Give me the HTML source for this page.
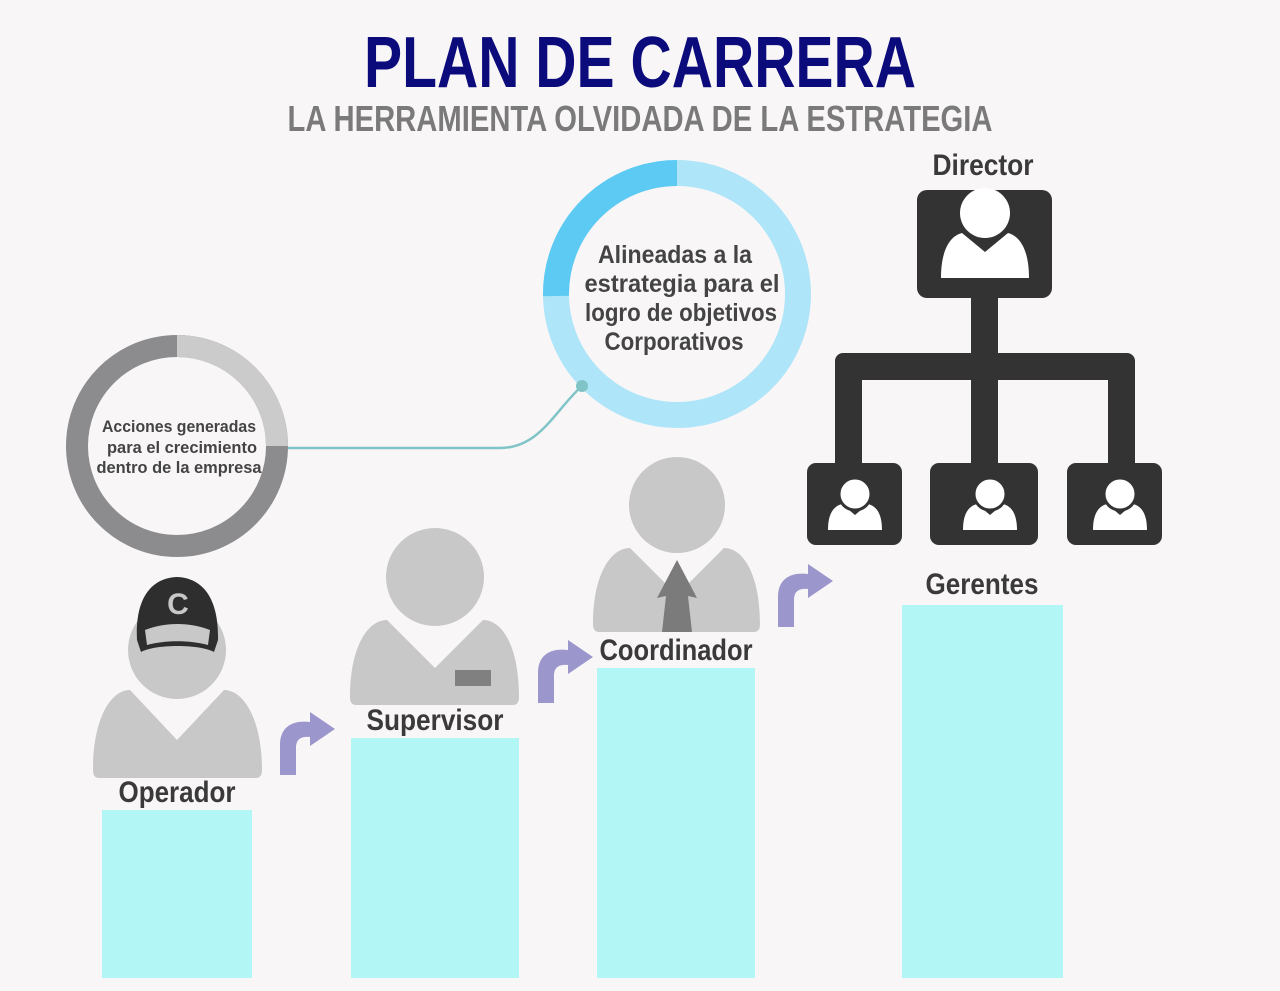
<!DOCTYPE html>
<html><head><meta charset="utf-8"><style>
html,body{margin:0;padding:0;background:#f9f6f8;}
svg{display:block;}
text{font-family:"Liberation Sans Narrow","Liberation Sans",sans-serif;font-weight:bold;}
</style></head><body>
<svg width="1280" height="991" viewBox="0 0 1280 991" xmlns="http://www.w3.org/2000/svg">
<rect width="1280" height="991" fill="#f9f6f8"/>
<text x="640" y="87" text-anchor="middle" font-size="72" fill="#0b0b7c" textLength="552" lengthAdjust="spacingAndGlyphs">PLAN DE CARRERA</text>
<text x="640" y="131" text-anchor="middle" font-size="36" fill="#7a7a7a" textLength="705" lengthAdjust="spacingAndGlyphs">LA HERRAMIENTA OLVIDADA DE LA ESTRATEGIA</text>

<circle cx="177" cy="446" r="100" fill="none" stroke="#8c8c8e" stroke-width="22"/>
<path d="M177,346 A100,100 0 0 1 277,446" fill="none" stroke="#cbcbcb" stroke-width="22"/>
<g font-size="17" fill="#444" text-anchor="middle">
<text x="179" y="432" textLength="154" lengthAdjust="spacingAndGlyphs">Acciones generadas</text>
<text x="182" y="453" textLength="150" lengthAdjust="spacingAndGlyphs">para el crecimiento</text>
<text x="179" y="473" textLength="165" lengthAdjust="spacingAndGlyphs">dentro de la empresa</text>
</g>

<path d="M288,448 L500,448 C540,448 555,410 582,386" fill="none" stroke="#80c4c8" stroke-width="2.5"/>

<circle cx="677" cy="294" r="121" fill="none" stroke="#afe5f8" stroke-width="26"/>
<path d="M556,296 A121,121 0 0 1 677,173" fill="none" stroke="#5ccaf2" stroke-width="26"/>
<circle cx="582" cy="386" r="6" fill="#80c4c8"/>
<g font-size="25" fill="#444" text-anchor="middle">
<text x="675" y="263" textLength="154" lengthAdjust="spacingAndGlyphs">Alineadas a la</text>
<text x="682" y="292" textLength="195" lengthAdjust="spacingAndGlyphs">estrategia para el</text>
<text x="681" y="321" textLength="192" lengthAdjust="spacingAndGlyphs">logro de objetivos</text>
<text x="674" y="350" textLength="139" lengthAdjust="spacingAndGlyphs">Corporativos</text>
</g>

<g fill="#b3f6f6">
<rect x="102" y="810" width="150" height="168"/>
<rect x="351" y="738" width="168" height="240"/>
<rect x="597" y="668" width="158" height="310"/>
<rect x="902" y="605" width="161" height="373"/>
</g>

<g fill="#c8c8c8">
<path d="M99,778 Q93,778 93,770 C93,720 110,690 130,690 L177,740 L224,690 C244,690 262,720 262,770 Q262,778 256,778 Z"/>
<circle cx="177" cy="650" r="49"/>
<path d="M356,705 Q350,705 350,697 C350,648 367,620 387,620 L435,668 L483,620 C503,620 519,648 519,697 Q519,705 513,705 Z"/>
<circle cx="435" cy="577" r="49"/>
<path d="M599,632 Q593,632 593,624 C593,576 610,548 630,548 L677,595 L724,548 C744,548 760,576 760,624 Q760,632 754,632 Z"/>
<circle cx="677" cy="505" r="48"/>
</g>
<rect x="455" y="670" width="36" height="16" fill="#808080"/>
<path d="M677,560 L697,598 L688,596 L692,632 L662,632 L666,596 L657,598 Z" fill="#7b7b7b"/>
<path d="M137,640 C135,600 150,578 177,577 C204,578 219,600 218,640 L214,652 C200,644 155,644 141,652 Z" fill="#2e2e2e"/>
<path d="M145,630 C165,622 190,622 210,630 L208,645 C190,640 165,640 147,645 Z" fill="#c8c8c8"/>
<text x="178" y="614" text-anchor="middle" font-size="30" fill="#c8c8c8">C</text>

<g fill="#9b97cc">
<path d="M280,775 L280,745 C280,725 295,720 310,722 L310,712 L335,729 L310,746 L310,737 C300,736 296,740 296,748 L296,775 Z"/>
<path d="M538,703 L538,673 C538,653 553,648 568,650 L568,640 L593,657 L568,674 L568,665 C558,664 554,668 554,676 L554,703 Z"/>
<path d="M778,627 L778,597 C778,577 793,572 808,574 L808,564 L833,581 L808,598 L808,589 C798,588 794,592 794,600 L794,627 Z"/>
</g>

<g fill="#3a3a3a" font-size="30" text-anchor="middle">
<text x="177" y="802" textLength="117" lengthAdjust="spacingAndGlyphs">Operador</text>
<text x="435" y="730" textLength="137" lengthAdjust="spacingAndGlyphs">Supervisor</text>
<text x="676" y="660" textLength="153" lengthAdjust="spacingAndGlyphs">Coordinador</text>
<text x="982" y="594" textLength="113" lengthAdjust="spacingAndGlyphs">Gerentes</text>
<text x="983" y="175" textLength="101" lengthAdjust="spacingAndGlyphs">Director</text>
</g>

<g fill="#333">
<rect x="917" y="190" width="135" height="108" rx="10"/>
<rect x="971" y="290" width="27" height="180"/>
<rect x="835" y="353" width="300" height="27" rx="8"/>
<rect x="835" y="360" width="27" height="110"/>
<rect x="1108" y="360" width="27" height="110"/>
<rect x="807" y="463" width="95" height="82" rx="9"/>
<rect x="930" y="463" width="108" height="82" rx="9"/>
<rect x="1067" y="463" width="95" height="82" rx="9"/>
</g>
<g fill="#fff">
<circle cx="985" cy="213" r="25"/>
<path d="M941,278 C941,250 950,236 962,233 L985,252 L1008,233 C1020,236 1029,250 1029,278 Z"/>
<path d="M828,530 C828,513 834,506 842,504 L855,515 L868,504 C876,506 882,513 882,530 Z"/>
<path d="M963,530 C963,513 969,506 977,504 L990,515 L1003,504 C1011,506 1017,513 1017,530 Z"/>
<path d="M1093,530 C1093,513 1099,506 1107,504 L1120,515 L1133,504 C1141,506 1147,513 1147,530 Z"/>
</g>
<g fill="#fff" stroke="#333" stroke-width="3">
<circle cx="855" cy="494" r="16"/>
<circle cx="990" cy="494" r="16"/>
<circle cx="1120" cy="494" r="16"/>
</g>
</svg>
</body></html>
